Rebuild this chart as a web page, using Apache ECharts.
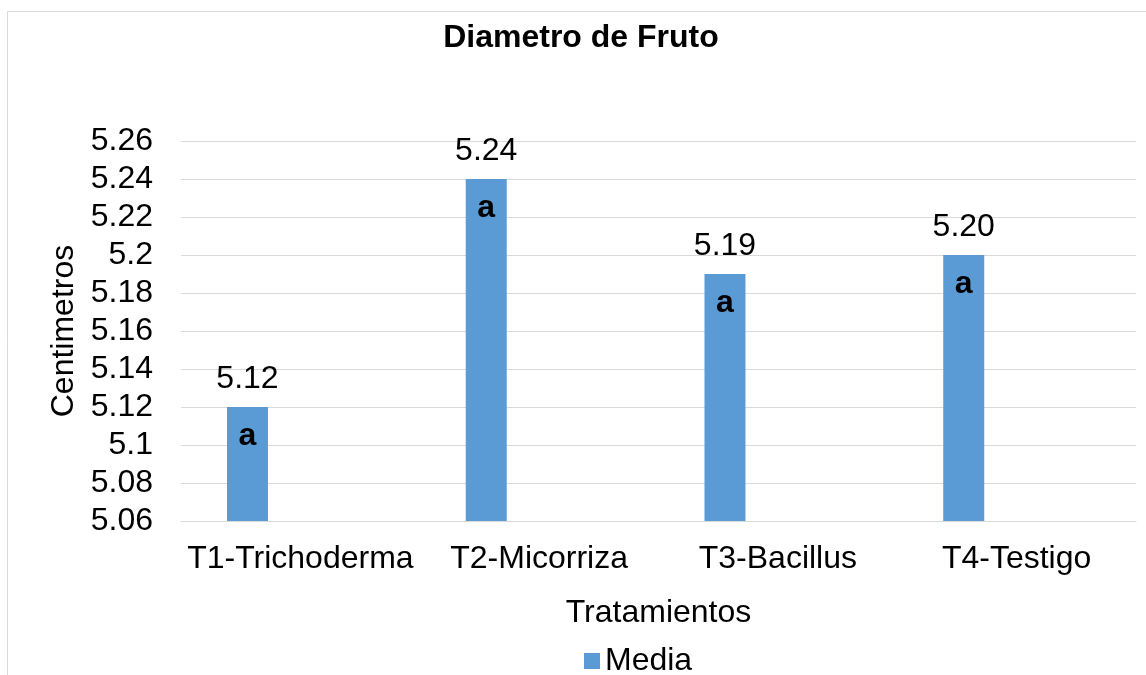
<!DOCTYPE html>
<html>
<head>
<meta charset="utf-8">
<script src="https://cdn.jsdelivr.net/npm/echarts@6/dist/echarts.min.js"></script>
<style>
  html, body { margin: 0; padding: 0; background: #fff; }
  #chart { width: 1146px; height: 675px; }
</style>
</head>
<body>
<div id="chart"></div>
<script>
// data
const categories = ["T1-Trichoderma", "T2-Micorriza", "T3-Bacillus", "T4-Testigo"];
const media = [5.12, 5.24, 5.19, 5.2];
const letters = ["a", "a", "a", "a"];
const yMin = 5.06;
const yMax = 5.26;
const yStep = 0.02;

const font = "'Liberation Sans', Arial, sans-serif";
const chart = echarts.init(document.getElementById("chart"), null, { renderer: "canvas" });

const option = {
  animation: false,
  textStyle: { fontFamily: font },
  title: {
    text: "Diametro de Fruto",
    left: 576,
    textAlign: "center",
    top: 17,
    textStyle: { fontFamily: font, fontSize: 32, fontWeight: "bold", color: "#000" },
  },
  graphic: [
    {
      type: "rect",
      shape: { x: 7.5, y: 11.5, width: 1200, height: 700 },
      style: { fill: "none", stroke: "#d9d9d9", lineWidth: 1 },
      silent: true,
    },
  ],
  legend: {
    data: ["Media"],
    left: 579,
    top: 640,
    icon: "rect",
    itemWidth: 16,
    itemHeight: 16,
    itemGap: 7,
    textStyle: { fontFamily: font, fontSize: 32, color: "#000", padding: [0, 0, 0, 0] },
  },
  grid: { left: 181, right: 10, top: 141, bottom: 154 },
  xAxis: {
    type: "category",
    data: categories,
    name: "Tratamientos",
    nameLocation: "middle",
    nameGap: 76,
    nameTextStyle: { fontFamily: font, fontSize: 32, color: "#000" },
    axisLine: { lineStyle: { color: "#d9d9d9" } },
    axisTick: { show: false },
    axisLabel: { fontFamily: font, fontSize: 32, color: "#000", margin: 22, interval: 0 },
  },
  yAxis: {
    type: "value",
    min: yMin,
    max: yMax,
    interval: yStep,
    name: "Centimetros",
    nameLocation: "middle",
    nameGap: 101,
    nameTextStyle: { fontFamily: font, fontSize: 32, color: "#000" },
    axisLine: { show: false },
    axisTick: { show: false },
    splitLine: { lineStyle: { color: "#d9d9d9", width: 1 } },
    axisLabel: {
      fontFamily: font,
      fontSize: 32,
      color: "#000",
      margin: 28,
      formatter: (v) => String(+v.toFixed(2)),
    },
  },
  series: [
    {
      name: "Media",
      type: "bar",
      data: media,
      barWidth: 41,
      barGap: "158%",
      itemStyle: { color: "#5b9bd5" },
      label: {
        show: true,
        position: ["50%", -56],
        align: "center",
        verticalAlign: "top",
        formatter: (p) => "{v|" + p.value.toFixed(2) + "}\n{g|" + letters[p.dataIndex] + "}",
        rich: {
          v: { fontFamily: font, fontSize: 32, color: "#000", lineHeight: 56 },
          g: { fontFamily: font, fontSize: 32, fontWeight: "bold", color: "#000", lineHeight: 58 },
        },
      },
    },
    {
      name: "hidden",
      type: "bar",
      data: [],
      barWidth: 41,
      barGap: "158%",
    },
  ],
};

chart.setOption(option);
</script>
</body>
</html>
